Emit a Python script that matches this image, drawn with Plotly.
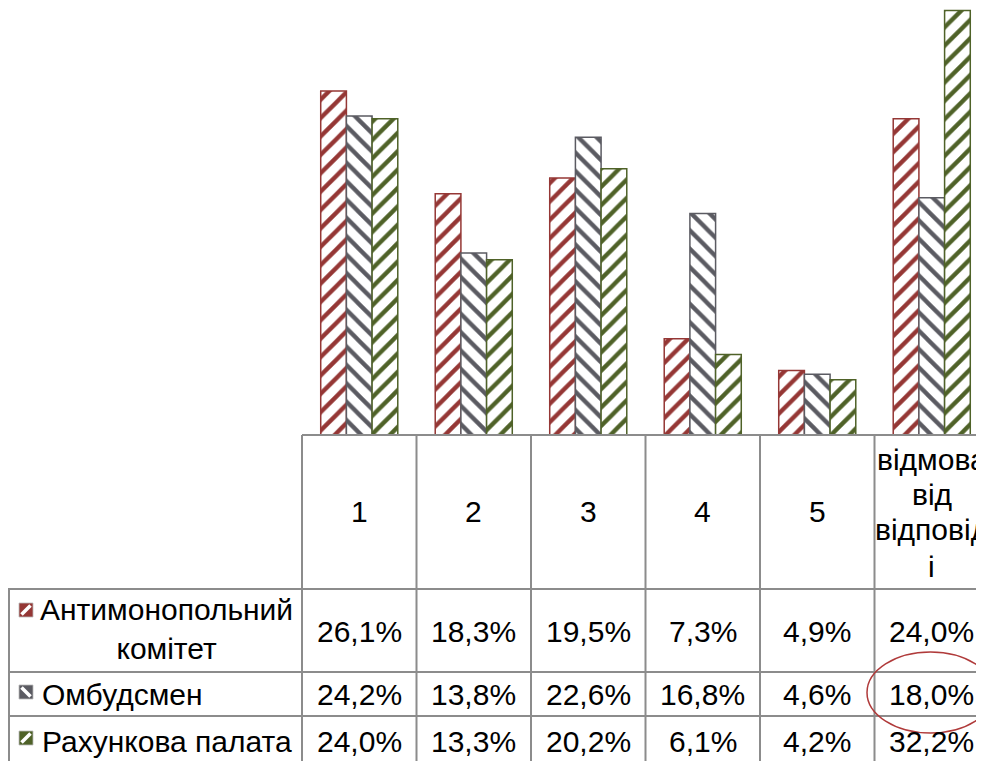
import plotly.graph_objects as go

categories = ["1", "2", "3", "4", "5", "відмова від відповіді"]
header_lines = [["1"], ["2"], ["3"], ["4"], ["5"], ["відмова", "від", "відповід", "і"]]
series_names = ["Антимонопольний<br>комітет", "Омбудсмен", "Рахункова палата"]
antimonopoly = [26.1, 18.3, 19.5, 7.3, 4.9, 24.0]
ombudsman = [24.2, 13.8, 22.6, 16.8, 4.6, 18.0]
accounting = [24.0, 13.3, 20.2, 6.1, 4.2, 32.2]

# page body has an 8px margin, so the figure is drawn from screen (8, 8)
OFF = 8
SW, SH = 984, 761
W, H = SW - OFF, SH - OFF
FONT = "Liberation Sans"
colors = ["#953735", "#5B5B62", "#4F6228"]
shapes_pat = ["/", "\\", "/"]
series = [antimonopoly, ombudsman, accounting]

def px(x):
    return (x - OFF) / W

def py(y):
    return 1 - (y - OFF) / H

fig = go.Figure()
xs = list(range(len(categories)))
for vals, col, pat, name in zip(series, colors, shapes_pat, series_names):
    fig.add_trace(go.Bar(
        x=xs, y=vals, name=name,
        marker=dict(color=col, line=dict(color=col, width=1.5),
                    pattern=dict(shape=pat, fgcolor=col, bgcolor="white",
                                 size=13, solidity=0.33, fillmode="replace")),
        showlegend=False, hoverinfo="skip"))

x_left = 302
cat_w = 114.5
base_y = 435
px_per_pct = 13.18
fig.update_layout(
    width=W, height=H,
    margin=dict(l=0, r=0, t=0, b=0),
    paper_bgcolor="white", plot_bgcolor="white",
    barmode="group", bargap=0.327, bargroupgap=0,
    xaxis=dict(domain=[px(x_left), 1], range=[-0.5, -0.5 + (SW - x_left) / cat_w],
               visible=False, fixedrange=True),
    yaxis=dict(domain=[py(base_y), 1], range=[0, (base_y - OFF) / px_per_pct],
               visible=False, fixedrange=True),
    font=dict(family=FONT, color="black"),
)

shapes = []
grid = dict(color="#8C8C8C", width=2)
col_edges = [x_left + cat_w * i for i in range(7)]
shapes.append(dict(type="line", xref="paper", yref="paper", x0=px(x_left), x1=px(SW + 10),
                   y0=py(base_y), y1=py(base_y), line=grid))
for yv in [589, 672, 716]:
    shapes.append(dict(type="line", xref="paper", yref="paper", x0=px(8), x1=px(SW + 10),
                       y0=py(yv), y1=py(yv), line=grid))
for xv in col_edges:
    shapes.append(dict(type="line", xref="paper", yref="paper", x0=px(xv), x1=px(xv),
                       y0=py(base_y), y1=py(SH + 5), line=grid))
shapes.append(dict(type="line", xref="paper", yref="paper", x0=px(9), x1=px(9),
                   y0=py(589), y1=py(SH + 5), line=grid))

# legend keys
key_y = [610, 692, 738]
for ky, col, pat in zip(key_y, colors, shapes_pat):
    x0, x1, y0, y1 = 19, 33, ky - 7, ky + 7
    shapes.append(dict(type="rect", xref="paper", yref="paper", x0=px(x0), x1=px(x1),
                       y0=py(y1), y1=py(y0), fillcolor=col, line=dict(width=0.8, color="#BBBBBB")))
    if pat == "/":
        shapes.append(dict(type="line", xref="paper", yref="paper", x0=px(x0 + 2.5), x1=px(x1 - 2.5),
                           y0=py(y1 - 2.5), y1=py(y0 + 2.5), line=dict(color="white", width=3.5)))
    else:
        shapes.append(dict(type="line", xref="paper", yref="paper", x0=px(x0 + 2.5), x1=px(x1 - 2.5),
                           y0=py(y0 + 2.5), y1=py(y1 - 2.5), line=dict(color="white", width=3.5)))

# red ellipse
shapes.append(dict(type="circle", xref="paper", yref="paper", x0=px(867), x1=px(994),
                   y0=py(733), y1=py(652), line=dict(color="#B03A3A", width=1.5)))
fig.update_layout(shapes=shapes)

ann = []
FS = 30
for i, lines in enumerate(header_lines):
    cx = col_edges[i] + cat_w / 2
    if len(lines) == 1:
        ann.append(dict(text=lines[0], x=px(cx), y=py(512)))
    else:
        ys = [459, 494, 529, 566]
        for t, yy in zip(lines, ys):
            ann.append(dict(text=t, x=px(cx), y=py(yy)))

row_y = [631, 694, 741]
for vals, ry in zip(series, row_y):
    for i, v in enumerate(vals):
        cx = col_edges[i] + cat_w / 2
        ann.append(dict(text=f"{v:.1f}%".replace(".", ","), x=px(cx), y=py(ry)))

ann.append(dict(text=series_names[0], x=px(166), y=py(629), xanchor="center"))
ann.append(dict(text=series_names[1], x=px(40), y=py(694), xanchor="left"))
ann.append(dict(text=series_names[2], x=px(40), y=py(741), xanchor="left"))

for a in ann:
    a.setdefault("xanchor", "center")
    a.update(xref="paper", yref="paper", yanchor="middle", showarrow=False,
             font=dict(family=FONT, size=FS, color="black"))
fig.update_layout(annotations=ann)

fig.write_html(
    "out.html",
    post_script=(
        "document.documentElement.style.overflow='hidden';"
        "document.body.style.overflow='hidden';"
    ),
)
